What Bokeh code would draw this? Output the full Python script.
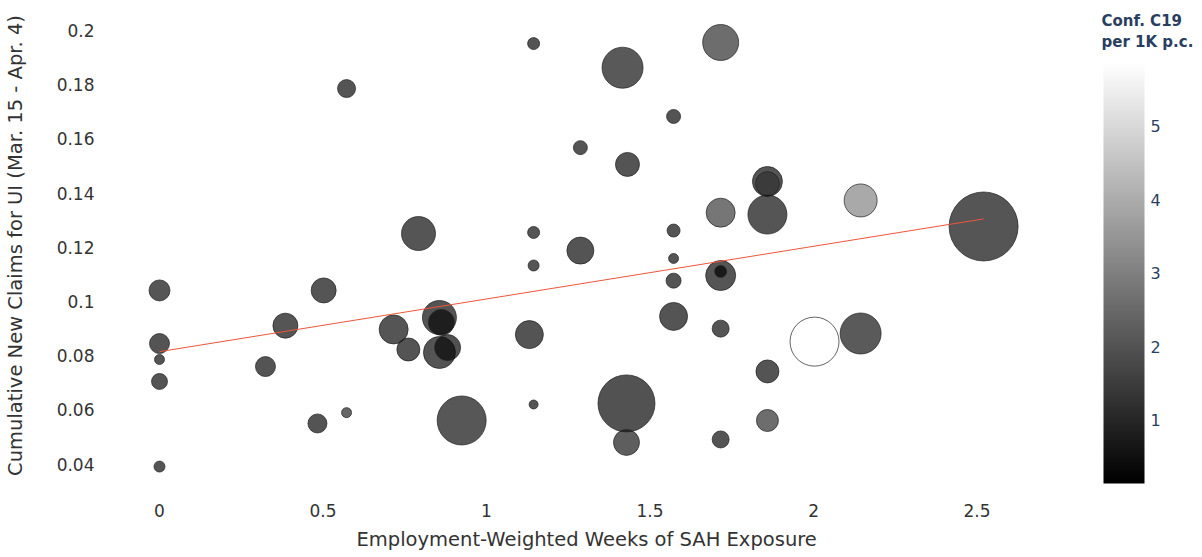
from bokeh.plotting import figure
from bokeh.models import (ColumnDataSource, LinearColorMapper, ColorBar, FixedTicker,
                          Range1d, Label, Title)
from bokeh.embed import file_html
from bokeh.resources import INLINE

# weeks of stay-at-home exposure, cumulative UI claims, confirmed cases per 1K
sah_weeks = [0, 0, 0, 0, 0, 0.324, 0.385, 0.483, 0.502, 0.572,
             0.572, 0.716, 0.761, 0.792, 0.856, 0.862, 0.856, 0.881, 0.924, 1.131,
             1.144, 1.144, 1.144, 1.144, 1.287, 1.287, 1.416, 1.431, 1.428, 1.428,
             1.572, 1.572, 1.572, 1.572, 1.572, 1.716, 1.716, 1.716, 1.716, 1.716,
             1.716, 1.859, 1.859, 1.859, 1.859, 1.859, 2.003, 2.144, 2.144, 2.52]
ui_claims = [0.1041, 0.0845, 0.0786, 0.0705, 0.0391, 0.076, 0.0911, 0.055, 0.1041, 0.059,
             0.1786, 0.0897, 0.0823, 0.1251, 0.0941, 0.0923, 0.0812, 0.083, 0.0561, 0.0878,
             0.1952, 0.1255, 0.1133, 0.062, 0.1188, 0.1568, 0.1863, 0.1506, 0.0624, 0.048,
             0.1683, 0.1262, 0.1159, 0.1077, 0.0945, 0.1956, 0.1328, 0.1096, 0.1111, 0.090,
             0.0491, 0.1443, 0.1435, 0.1321, 0.0742, 0.0561, 0.0852, 0.1373, 0.0882, 0.1277]
conf_cases = [0.45, 0.4, 0.4, 0.4, 0.4, 0.4, 0.45, 0.4, 0.45, 1.0,
              0.4, 0.45, 0.4, 0.45, 0.4, 0.3, 0.4, 0.3, 0.5, 0.4,
              0.4, 0.4, 0.4, 0.4, 0.4, 0.4, 0.55, 0.4, 0.35, 0.7,
              0.4, 0.4, 0.4, 0.4, 0.4, 1.2, 1.5, 0.45, 0.14, 0.4,
              0.4, 0.4, 1.25, 0.45, 0.4, 1.2, 5.87, 3.1, 0.6, 0.45]
bubble_size = [21, 20, 10, 16, 11, 20, 25, 19, 25, 10,
               18, 29, 23, 34, 34, 26, 32, 26, 49, 28,
               12, 12, 11, 9, 27, 14, 41, 24, 57, 26,
               14, 13, 10, 15, 28, 36, 29, 30, 12, 17,
               17, 30, 24, 39, 23, 22, 49, 33, 41, 69]

trend_x = [0, 2.52]
trend_y = [0.0815, 0.1305]

x_ticks = [0, 0.5, 1, 1.5, 2, 2.5]
x_tick_labels = ["0", "0.5", "1", "1.5", "2", "2.5"]
y_ticks = [0.04, 0.06, 0.08, 0.1, 0.12, 0.14, 0.16, 0.18, 0.2]
y_tick_labels = ["0.04", "0.06", "0.08", "0.1", "0.12", "0.14", "0.16", "0.18", "0.2"]
cbar_ticks = [1, 2, 3, 4, 5]
cases_low, cases_high = 0.14, 5.87

FONT = "DejaVu Sans"
greys = ["#%02x%02x%02x" % (i, i, i) for i in range(256)]

source = ColumnDataSource(dict(x=sah_weeks, y=ui_claims, c=conf_cases, s=bubble_size))

# the frame runs to the right edge so the colour bar can sit inside it
p = figure(
    frame_width=1067, frame_height=490,
    min_border_left=119, min_border_top=0, min_border_right=0, min_border_bottom=0,
    x_range=Range1d(-0.0948, 3.168), y_range=Range1d(0.03026, 0.2111),
    output_backend="svg", toolbar_location=None,
    y_axis_label="Cumulative New Claims for UI (Mar. 15 - Apr. 4)",
)
p.outline_line_color = None
p.grid.visible = False

mapper = LinearColorMapper(palette=greys, low=cases_low, high=cases_high)
p.scatter("x", "y", source=source, size="s", marker="circle",
          fill_color={"field": "c", "transform": mapper}, fill_alpha=0.7,
          line_color="#222222", line_alpha=0.7, line_width=1)

p.line(trend_x, trend_y, line_color="#ef553b", line_width=1)

for ax in (p.xaxis[0], p.yaxis[0]):
    ax.axis_line_color = None
    ax.major_tick_line_color = None
    ax.minor_tick_line_color = None
    ax.major_label_text_font = FONT
    ax.major_label_text_font_size = "17px"
    ax.major_label_text_color = "#333333"
    ax.axis_label_text_font = FONT
    ax.axis_label_text_font_size = "19.5px"
    ax.axis_label_text_font_style = "normal"
    ax.axis_label_text_color = "#333333"

p.xaxis.ticker = FixedTicker(ticks=x_ticks)
p.xaxis.major_label_overrides = dict(zip(x_ticks, x_tick_labels))
p.xaxis.major_label_standoff = 7

p.yaxis.ticker = FixedTicker(ticks=y_ticks)
p.yaxis.major_label_overrides = dict(zip(y_ticks, y_tick_labels))
p.yaxis.major_label_standoff = 28
p.yaxis.axis_label_standoff = 27

# x axis title centred under the data area, not under the whole frame
x_title = Title(text="Employment-Weighted Weeks of SAH Exposure", align="left",
                offset=228, standoff=12, text_font=FONT, text_font_size="19.5px",
                text_font_style="normal", text_color="#333333")
p.add_layout(x_title, "below")

cbar = ColorBar(
    color_mapper=mapper, ticker=FixedTicker(ticks=cbar_ticks),
    width=41, height=421, location=(973, 5), margin=0, padding=2,
    major_label_text_font=FONT, major_label_text_font_size="16px",
    major_label_text_color="#2a3f5f", label_standoff=6,
    major_tick_line_color=None, bar_line_color=None,
    border_line_color=None, background_fill_color=None,
)
p.add_layout(cbar, "center")

cbar_title = Label(
    x=973, y=479, x_units="screen", y_units="screen",
    text="Conf. C19\nper 1K p.c.", text_baseline="top", text_align="left",
    text_font=FONT, text_font_size="15px", text_font_style="bold",
    text_color="#2a3f5f", text_line_height=1.2,
)
p.add_layout(cbar_title, "center")

open("out.html", "w").write(file_html(p, INLINE))
